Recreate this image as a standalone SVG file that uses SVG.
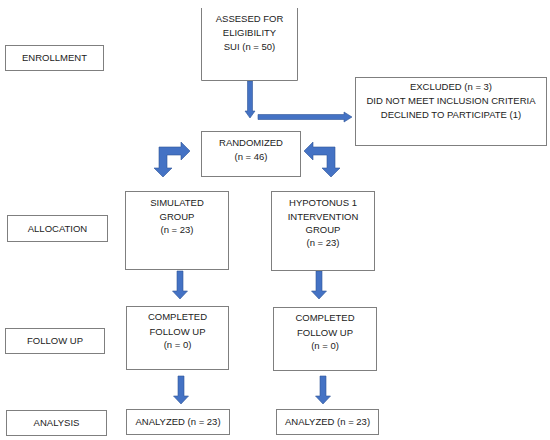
<svg xmlns="http://www.w3.org/2000/svg" xmlns:xlink="http://www.w3.org/1999/xlink" width="550" height="440" viewBox="0 0 550 440">
<style>
.box{fill:#fff;stroke:#7f7f7f;stroke-width:1}
.t{font-family:"Liberation Sans",Arial,sans-serif;font-size:9.5px;fill:#222;text-anchor:middle}
.arr{fill:#4472C4;stroke:#2F5597;stroke-width:0.6}
</style>
<defs>
<path id="down" d="M-3,0 H3 V20 H7.5 L0,28 L-7.5,20 H-3 Z"/>
</defs>
<rect width="550" height="440" fill="#fff"/>
<g id="connectors">
<path class="arr" d="M247.5,81 H252.5 V111 H255 L250,118 L245,111 H247.5 Z"/>
<path class="arr" d="M258,114.5 H344 V112 L352,117 L344,122 V119.5 H258 Z"/>
<path class="arr" d="M159,147 H181 V142 L190,151 L181,160 V155 H167 V168 H172 L163,177 L154,168 H159 Z"/>
<path class="arr" d="M335,147 H313 V142 L304,151 L313,160 V155 H327 V168 H322 L331,177 L340,168 H335 Z"/>
<use href="#down" class="arr" x="180" y="271"/>
<use href="#down" class="arr" x="181" y="376"/>
<use href="#down" class="arr" x="319" y="271"/>
<use href="#down" class="arr" x="323" y="376"/>
</g>
<g id="n_enroll"><rect class="box" x="5.5" y="45.5" width="98" height="25"/><text class="t" x="54.5" y="61">ENROLLMENT</text></g>
<g id="n_assess"><path class="box" d="M201.5,8 V80.5 H297.5 V8"/><text class="t" x="249.5" y="22">ASSESED FOR</text><text class="t" x="249.5" y="36">ELIGIBILITY</text><text class="t" x="249.5" y="49.5">SUI (n = 50)</text></g>
<g id="n_excluded"><rect class="box" x="355.5" y="77.5" width="191" height="68"/><text class="t" x="451" y="90">EXCLUDED (n = 3)</text><text class="t" x="451" y="103.5">DID NOT MEET INCLUSION CRITERIA</text><text class="t" x="451" y="117.5">DECLINED TO PARTICIPATE (1)</text></g>
<g id="n_random"><rect class="box" x="201.5" y="131.5" width="99" height="45"/><text class="t" x="251" y="145.5">RANDOMIZED</text><text class="t" x="251" y="160">(n = 46)</text></g>
<g id="n_alloc"><rect class="box" x="7.5" y="215.5" width="100" height="26"/><text class="t" x="57.5" y="231.5">ALLOCATION</text></g>
<g id="n_sim"><rect class="box" x="125.5" y="191.5" width="103" height="78"/><text class="t" x="177" y="206">SIMULATED</text><text class="t" x="177" y="219.5">GROUP</text><text class="t" x="177" y="232.5">(n = 23)</text></g>
<g id="n_hypo"><rect class="box" x="271.5" y="191.5" width="103" height="79"/><text class="t" x="323" y="206">HYPOTONUS 1</text><text class="t" x="323" y="219.5">INTERVENTION</text><text class="t" x="323" y="232.5">GROUP</text><text class="t" x="323" y="246">(n = 23)</text></g>
<g id="n_follow"><rect class="box" x="5.5" y="328.5" width="99" height="25"/><text class="t" x="55" y="344">FOLLOW UP</text></g>
<g id="n_comp1"><rect class="box" x="126.5" y="306.5" width="102" height="63"/><text class="t" x="177.5" y="319.5">COMPLETED</text><text class="t" x="177.5" y="334.5">FOLLOW UP</text><text class="t" x="177.5" y="347.5">(n = 0)</text></g>
<g id="n_comp2"><rect class="box" x="273.5" y="307.5" width="103" height="63"/><text class="t" x="325" y="320.5">COMPLETED</text><text class="t" x="325" y="335.5">FOLLOW UP</text><text class="t" x="325" y="348.5">(n = 0)</text></g>
<g id="n_analysis"><rect class="box" x="6.5" y="410.5" width="100" height="25"/><text class="t" x="56.5" y="426">ANALYSIS</text></g>
<g id="n_an1"><rect class="box" x="126.5" y="409.5" width="103" height="25"/><text class="t" x="178" y="425">ANALYZED (n = 23)</text></g>
<g id="n_an2"><rect class="box" x="276.5" y="409.5" width="102" height="25"/><text class="t" x="327.5" y="425">ANALYZED (n = 23)</text></g>
</svg>
